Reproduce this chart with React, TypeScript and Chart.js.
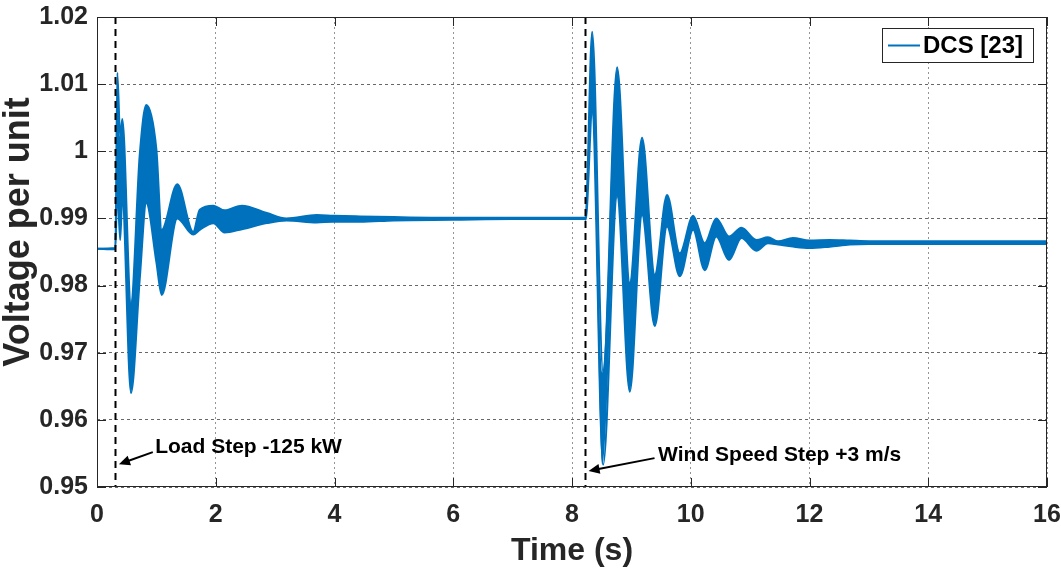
import React, { useEffect, useRef } from 'react';
import { Chart, registerables } from 'chart.js';

Chart.register(...registerables);

// ---- Data ----
// Envelope of the DCS [23] voltage (high-frequency ripple band): upper and lower edge
const timeLoad = [0, 0.31, 0.342, 0.39, 0.426, 0.572, 0.72, 0.83, 1.0, 1.089, 1.352, 1.62, 1.73, 1.96, 2.15, 2.44, 2.86, 3.19, 3.7, 3.98, 4.43, 5.0, 6.0, 7.0, 8.21];
const upperLoad = [0.9855, 0.9856, 1.0117, 1.0022, 1.0048, 0.9774, 0.9995, 1.0069, 1.0003, 0.9883, 0.9951, 0.988, 0.9913, 0.9919, 0.9912, 0.9919, 0.9908, 0.99, 0.9905, 0.9904, 0.9903, 0.9902, 0.9901, 0.9901, 0.9901];
const lowerLoad = [0.9855, 0.9854, 0.995, 0.9868, 0.993, 0.964, 0.981, 0.9923, 0.9835, 0.9786, 0.99, 0.9876, 0.9883, 0.9893, 0.9879, 0.9884, 0.9893, 0.9897, 0.9894, 0.9895, 0.9895, 0.9897, 0.9898, 0.9899, 0.9899];

const timeWind = [8.22, 8.23, 8.34, 8.524, 8.76, 8.973, 9.18, 9.394, 9.6, 9.815, 10.04, 10.235, 10.43, 10.645, 10.853, 11.106, 11.3, 11.47, 11.72, 12.0, 12.34, 12.68, 13.01, 14.0, 15.0, 16.0];
const upperWind = [0.9901, 0.9902, 1.0178, 0.967, 1.0125, 0.9804, 1.002, 0.9816, 0.9935, 0.9848, 0.9904, 0.9863, 0.99, 0.9873, 0.9886, 0.9868, 0.9872, 0.9866, 0.9871, 0.9867, 0.9868, 0.9867, 0.9866, 0.9866, 0.9866, 0.9866];
const lowerWind = [0.9899, 0.9898, 1.0057, 0.9533, 0.9933, 0.9642, 0.9905, 0.974, 0.9888, 0.9814, 0.9883, 0.9823, 0.9873, 0.9838, 0.9871, 0.9852, 0.9863, 0.9861, 0.9858, 0.9856, 0.9858, 0.9861, 0.9862, 0.9862, 0.9862, 0.9862];

const seriesName = 'DCS [23]';
const stepTimes = [0.3, 8.22];
const stepLabels = ['Load Step -125 kW', 'Wind Speed Step +3 m/s'];
// label anchor [t, v], arrow tail [t, v], arrow head [t, v]
const labelAnchors = [[0.98, 0.9559], [9.45, 0.9547]];
const arrowTails = [[0.94, 0.9552], [9.39, 0.9543]];
const arrowHeads = [[0.37, 0.9534], [8.28, 0.9524]];

const xTickLabels = ['0', '2', '4', '6', '8', '10', '12', '14', '16'];
const yTickLabels = ['0.95', '0.96', '0.97', '0.98', '0.99', '1', '1.01', '1.02'];
const xTitle = 'Time (s)';
const yTitle = 'Voltage per unit';

const BLUE = '#0072BD';
const FONT = 'Arial, "Liberation Sans", Helvetica, sans-serif';

export default function App() {
  const canvasRef = useRef<HTMLCanvasElement | null>(null);

  useEffect(() => {
    const canvas = canvasRef.current;
    if (!canvas) return;
    const times = [...timeLoad, ...timeWind];
    const upper = [...upperLoad, ...upperWind];
    const lower = [...lowerLoad, ...lowerWind];

    const overlay = {
      id: 'overlay',
      afterDatasetsDraw(chart: any) {
        const { ctx, chartArea, scales } = chart;
        const xs = scales.x;
        const ys = scales.y;
        ctx.save();
        // step dashed lines
        ctx.strokeStyle = '#000';
        ctx.lineWidth = 2;
        ctx.setLineDash([7, 5]);
        stepTimes.forEach((t) => {
          const px = Math.round(xs.getPixelForValue(t)) + 0.5;
          ctx.beginPath();
          ctx.moveTo(px, chartArea.top);
          ctx.lineTo(px, chartArea.bottom);
          ctx.stroke();
        });
        ctx.setLineDash([]);
        // arrows
        arrowTails.forEach((tail, i) => {
          const head = arrowHeads[i];
          const x1 = xs.getPixelForValue(tail[0]);
          const y1 = ys.getPixelForValue(tail[1]);
          const x2 = xs.getPixelForValue(head[0]);
          const y2 = ys.getPixelForValue(head[1]);
          const ang = Math.atan2(y2 - y1, x2 - x1);
          const L = 11;
          const W = 5;
          ctx.strokeStyle = '#000';
          ctx.lineWidth = 2;
          ctx.beginPath();
          ctx.moveTo(x1, y1);
          ctx.lineTo(x2 - Math.cos(ang) * L * 0.8, y2 - Math.sin(ang) * L * 0.8);
          ctx.stroke();
          ctx.fillStyle = '#000';
          ctx.beginPath();
          ctx.moveTo(x2, y2);
          ctx.lineTo(x2 - Math.cos(ang) * L - Math.sin(ang) * W, y2 - Math.sin(ang) * L + Math.cos(ang) * W);
          ctx.lineTo(x2 - Math.cos(ang) * L + Math.sin(ang) * W, y2 - Math.sin(ang) * L - Math.cos(ang) * W);
          ctx.closePath();
          ctx.fill();
        });
        // labels
        ctx.font = `bold 21px ${FONT}`;
        ctx.fillStyle = '#000';
        ctx.textAlign = 'left';
        ctx.textBaseline = 'middle';
        stepLabels.forEach((s, i) => {
          ctx.fillText(s, xs.getPixelForValue(labelAnchors[i][0]), ys.getPixelForValue(labelAnchors[i][1]));
        });
        // axes box
        ctx.strokeStyle = '#262626';
        ctx.lineWidth = 1;
        ctx.strokeRect(chartArea.left + 0.5, chartArea.top + 0.5, chartArea.right - chartArea.left - 1, chartArea.bottom - chartArea.top - 1);
        // inner tick marks
        ctx.beginPath();
        xs.ticks.forEach((tk: any) => {
          const px = Math.round(xs.getPixelForValue(tk.value)) + 0.5;
          ctx.moveTo(px, chartArea.bottom);
          ctx.lineTo(px, chartArea.bottom - 9);
          ctx.moveTo(px, chartArea.top);
          ctx.lineTo(px, chartArea.top + 9);
        });
        ys.ticks.forEach((tk: any) => {
          const py = Math.round(ys.getPixelForValue(tk.value)) + 0.5;
          ctx.moveTo(chartArea.left, py);
          ctx.lineTo(chartArea.left + 9, py);
          ctx.moveTo(chartArea.right, py);
          ctx.lineTo(chartArea.right - 9, py);
        });
        ctx.stroke();
        // legend
        const bx = 882, by = 28, bw = 151, bh = 34;
        ctx.fillStyle = '#fff';
        ctx.fillRect(bx, by, bw, bh);
        ctx.strokeStyle = '#262626';
        ctx.lineWidth = 1;
        ctx.strokeRect(bx + 0.5, by + 0.5, bw, bh);
        ctx.strokeStyle = BLUE;
        ctx.lineWidth = 2;
        ctx.beginPath();
        ctx.moveTo(888, by + bh / 2 + 0.5);
        ctx.lineTo(920, by + bh / 2 + 0.5);
        ctx.stroke();
        ctx.fillStyle = '#000';
        ctx.font = `bold 24px ${FONT}`;
        ctx.textBaseline = 'middle';
        ctx.fillText(seriesName, 923, by + bh / 2 + 1);
        // y axis title
        ctx.save();
        ctx.translate(19, 232);
        ctx.rotate(-Math.PI / 2);
        ctx.font = `bold 36px ${FONT}`;
        ctx.fillStyle = '#262626';
        ctx.textAlign = 'center';
        ctx.textBaseline = 'middle';
        ctx.fillText(yTitle, 0, 0);
        ctx.restore();
        ctx.restore();
      },
    };

    const chart = new Chart(canvas, {
      type: 'line',
      data: {
        datasets: [
          {
            label: seriesName,
            data: times.map((t, i) => ({ x: t, y: upper[i] })),
            borderColor: BLUE,
            backgroundColor: BLUE,
            borderWidth: 2,
            pointRadius: 0,
            cubicInterpolationMode: 'monotone',
            fill: false,
          },
          {
            label: seriesName + ' (lower)',
            data: times.map((t, i) => ({ x: t, y: lower[i] })),
            borderColor: BLUE,
            backgroundColor: BLUE,
            borderWidth: 2,
            pointRadius: 0,
            cubicInterpolationMode: 'monotone',
            fill: '-1',
          },
        ],
      },
      options: {
        animation: false,
        responsive: false,
        devicePixelRatio: 1,
        layout: { padding: { top: 17, right: 14, left: 0, bottom: 0 } },
        plugins: { legend: { display: false }, tooltip: { enabled: false } },
        scales: {
          x: {
            type: 'linear',
            min: 0,
            max: 16,
            afterFit: (s: any) => { s.height = 85; s.paddingLeft = 0; s.paddingRight = 0; },
            ticks: {
              stepSize: 2,
              padding: 13,
              color: '#262626',
              font: { family: FONT, size: 25, weight: 'bold' },
              callback: (v: any) => xTickLabels[Math.round(Number(v) / 2)] ?? '',
              maxRotation: 0,
            },
            grid: { color: 'rgba(60,60,60,0.55)', drawTicks: false, lineWidth: 1 },
            border: { display: false, dash: [2, 3] },
            title: {
              display: true,
              text: xTitle,
              color: '#262626',
              font: { family: FONT, size: 32, weight: 'bold' },
              padding: { top: 0, bottom: 2 },
            },
          },
          y: {
            type: 'linear',
            min: 0.95,
            max: 1.02,
            afterFit: (s: any) => { s.width = 97; s.paddingTop = 0; s.paddingBottom = 0; },
            ticks: {
              stepSize: 0.01,
              padding: 9,
              color: '#262626',
              font: { family: FONT, size: 25, weight: 'bold' },
              callback: (v: any) => yTickLabels[Math.round((Number(v) - 0.95) / 0.01)] ?? '',
            },
            grid: { color: 'rgba(40,40,40,0.7)', drawTicks: false, lineWidth: 1 },
            border: { display: false, dash: [3, 3] },
            title: { display: false },
          },
        },
      },
      plugins: [overlay],
    } as any);

    return () => chart.destroy();
  }, []);

  return (
    <div style={{ position: 'absolute', left: 0, top: 0, width: 1061, height: 572, background: '#fff' }}>
      <canvas ref={canvasRef} width={1061} height={572} style={{ display: 'block' }} />
    </div>
  );
}
